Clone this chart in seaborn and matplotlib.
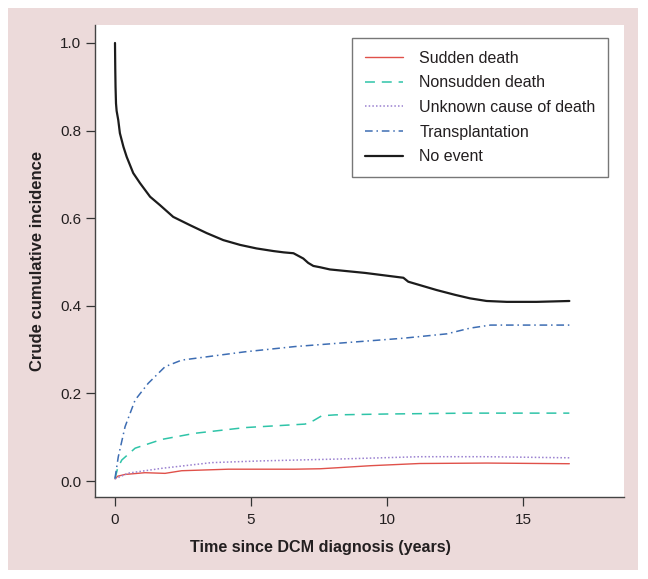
"""Crude cumulative incidence of competing events after DCM diagnosis"""
import matplotlib
matplotlib.use("Agg")
import matplotlib.pyplot as plt
from matplotlib.patches import Rectangle
import seaborn as sns

# values
t_sudden = [0, 0.1, 0.37, 1.1, 1.84, 2.45, 4.17, 6.6, 7.54, 8.09, 9.4, 11.2, 13.66, 16.7]
sudden = [0.005, 0.011, 0.015, 0.019, 0.0175, 0.0235, 0.027, 0.027, 0.028, 0.030,
          0.035, 0.040, 0.041, 0.0395]

t_nonsudden = [0, 0.1, 0.25, 0.74, 1.72, 2.94, 4.78, 6.99, 7.3, 7.6, 8.09, 10, 13, 16.7]
nonsudden = [0.005, 0.03, 0.048, 0.075, 0.095, 0.109, 0.122, 0.130, 0.138, 0.149,
             0.151, 0.153, 0.155, 0.155]

t_unknown = [0, 0.49, 1.72, 3.55, 5.4, 8.09, 11.2, 13.66, 16.7]
unknown = [0.005, 0.018, 0.029, 0.042, 0.046, 0.050, 0.0555, 0.0555, 0.053]

t_transplant = [0, 0.12, 0.37, 0.74, 1.22, 1.84, 2.45, 3.55, 4.78, 6.62, 8.09,
                10.6, 12.2, 13.05, 13.8, 16.7]
transplant = [0.006, 0.055, 0.124, 0.185, 0.223, 0.261, 0.276, 0.285, 0.295, 0.307,
              0.314, 0.326, 0.336, 0.349, 0.356, 0.356]

t_noevent = [0, 0.01, 0.02, 0.037, 0.06, 0.12, 0.18, 0.31, 0.43, 0.67, 0.92, 1.29, 1.65,
             2.14, 2.76, 3.37, 3.98, 4.6, 5.2, 5.82, 6.2, 6.56, 6.74, 6.92, 7.1, 7.29,
             7.54, 7.9, 9.2, 10.6, 10.78, 11.82, 12.5, 13.05, 13.66, 14.4, 15.5, 16.7]
noevent = [1.0, 0.94, 0.90, 0.862, 0.845, 0.824, 0.794, 0.763, 0.740, 0.703, 0.680,
           0.649, 0.630, 0.603, 0.584, 0.566, 0.550, 0.539, 0.531, 0.525, 0.522,
           0.520, 0.514, 0.508, 0.498, 0.491, 0.488, 0.483, 0.475, 0.464, 0.455,
           0.436, 0.425, 0.417, 0.411, 0.409, 0.409, 0.411]

labels = ["Sudden death", "Nonsudden death", "Unknown cause of death",
          "Transplantation", "No event"]
x_ticks = [0, 5, 10, 15]
y_ticks = [0.0, 0.2, 0.4, 0.6, 0.8, 1.0]

sns.set_style("white")
plt.rcParams["font.family"] = ["Liberation Sans", "DejaVu Sans"]
text_col = "#231f20"

fig = plt.figure(figsize=(6.48, 5.79), dpi=100)
# pink panel behind the plot
fig.add_artist(Rectangle((0.0123, 0.0155), 0.9722, 0.9706, transform=fig.transFigure,
                         facecolor="#ecdada", edgecolor="none", zorder=-10))
ax = fig.add_axes([0.1466, 0.1416, 0.8164, 0.8152])
ax.set_facecolor("white")

series = [
    (t_sudden, sudden, "#e0514a", "-", 1.0),
    (t_nonsudden, nonsudden, "#2fc4a8", (0, (6.5, 4.5)), 1.1),
    (t_unknown, unknown, "#9a80d0", (0, (1, 1.4)), 1.1),
    (t_transplant, transplant, "#3d6db3", (0, (5, 2.5, 1, 2.5)), 1.1),
    (t_noevent, noevent, "#1c1c1c", "-", 1.6),
]
for (x, y, col, ls, lw), lab in zip(series, labels):
    sns.lineplot(x=x, y=y, ax=ax, color=col, linestyle=ls, linewidth=lw, label=lab)

ax.set_xlim(-0.735, 18.71)
ax.set_ylim(-0.0365, 1.041)
ax.set_xticks(x_ticks)
ax.set_yticks(y_ticks)
ax.set_xticklabels([str(v) for v in x_ticks])
ax.set_yticklabels(["%.1f" % v for v in y_ticks])
ax.tick_params(axis="both", direction="out", length=6.5, width=0.9, color="#333333",
               labelsize=11, labelcolor=text_col, left=True, bottom=True)
ax.tick_params(axis="x", pad=5)
ax.tick_params(axis="y", pad=3.5)

for side in ["top", "right"]:
    ax.spines[side].set_visible(False)
for side in ["left", "bottom"]:
    ax.spines[side].set_color("#444444")
    ax.spines[side].set_linewidth(1.0)

ax.set_xlabel("Time since DCM diagnosis (years)", fontsize=11.6, fontweight="bold",
              color=text_col, labelpad=11)
ax.xaxis.set_label_coords(0.427, -0.092)
ax.set_ylabel("Crude cumulative incidence", fontsize=12, fontweight="bold",
              color=text_col, labelpad=11)

leg = ax.legend(loc="upper right", bbox_to_anchor=(0.970, 0.9725), borderaxespad=0,
                fontsize=11.5, frameon=True, fancybox=False, handlelength=2.4,
                handletextpad=1.0, labelspacing=0.6, borderpad=0.8)
leg.get_frame().set_edgecolor("#555555")
leg.get_frame().set_linewidth(1.0)
for txt in leg.get_texts():
    txt.set_color(text_col)

fig.savefig("out.png", dpi=100)
